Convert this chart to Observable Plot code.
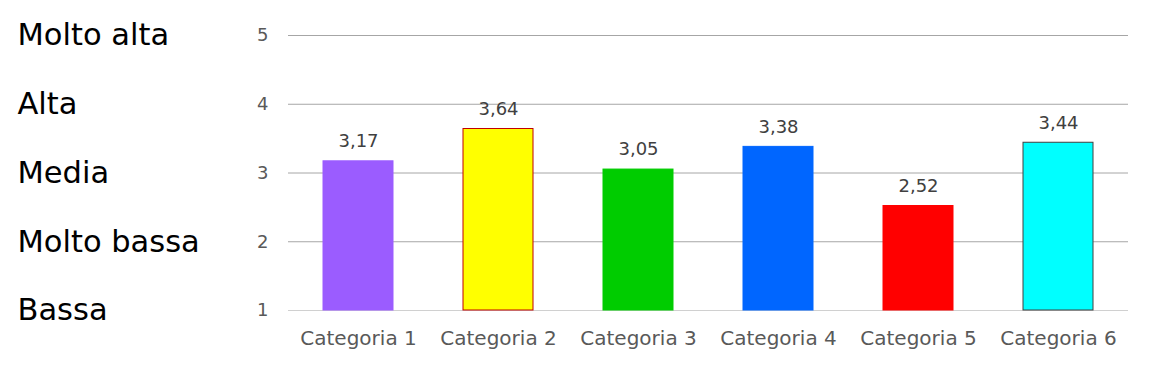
<!DOCTYPE html>
<html><head><meta charset="utf-8">
<script src="https://cdn.jsdelivr.net/npm/d3@7"></script>
<script src="https://cdn.jsdelivr.net/npm/@observablehq/plot@0.6"></script>
<style>body{margin:0;background:#fff}</style>
</head><body><div id="chart"></div>
<script>
const categories = ["Categoria 1","Categoria 2","Categoria 3","Categoria 4","Categoria 5","Categoria 6"];
const values = [3.17, 3.64, 3.05, 3.38, 2.52, 3.44];
const fills = ["#9B5CFF","#FFFF00","#00CC00","#0066FF","#FF0000","#00FFFF"];
const strokes = ["#9B5CFF","#C00000","#00CC00","#0066FF","#FF0000","#404040"];
const levelValues = [5, 4, 3, 2, 1];
const levelLabels = ["Molto alta","Alta","Media","Molto bassa","Bassa"];
const yTicks = [1, 2, 3, 4, 5];

const data = categories.map((c, i) => ({category: c, value: values[i], fill: fills[i], stroke: strokes[i]}));
const levels = levelValues.map((v, i) => ({y: v, label: levelLabels[i]}));
const fmt = v => d3.format(".2f")(v).replace(".", ",");

const chart = Plot.plot({
  width: 1150, height: 365,
  marginLeft: 288, marginRight: 22, marginTop: 35, marginBottom: 55,
  x: {domain: categories, paddingInner: 0.5, paddingOuter: 0.25, label: null},
  y: {domain: [1, 5], label: null},
  color: {type: "identity"},
  style: {fontFamily: "DejaVu Sans, sans-serif", background: "#fff"},
  marks: [
    Plot.gridY(yTicks.filter(t => t > 1), {stroke: "#a6a6a6", strokeOpacity: 1}),
    Plot.gridY(yTicks.filter(t => t === 1), {stroke: "#d0d0d0", strokeOpacity: 1}),
    Plot.axisY(yTicks, {tickSize: 0, tickPadding: 20, fontSize: 18, fill: "#595959", tickFormat: "d", label: null}),
    Plot.axisX({tickSize: 0, tickPadding: 20, fontSize: 20, fill: "#595959", label: null}),
    Plot.barY(data, {x: "category", y1: 1, y2: "value", fill: "fill", stroke: "stroke"}),
    Plot.text(data, {x: "category", y: "value", text: d => fmt(d.value), dy: -20, fontSize: 18, fill: "#404040"}),
    Plot.text(levels, {y: "y", text: "label", frameAnchor: "left", textAnchor: "start", dx: -271, fontSize: 30.5, fill: "#000"})
  ]
});
document.getElementById("chart").append(chart);
</script>
</body></html>
